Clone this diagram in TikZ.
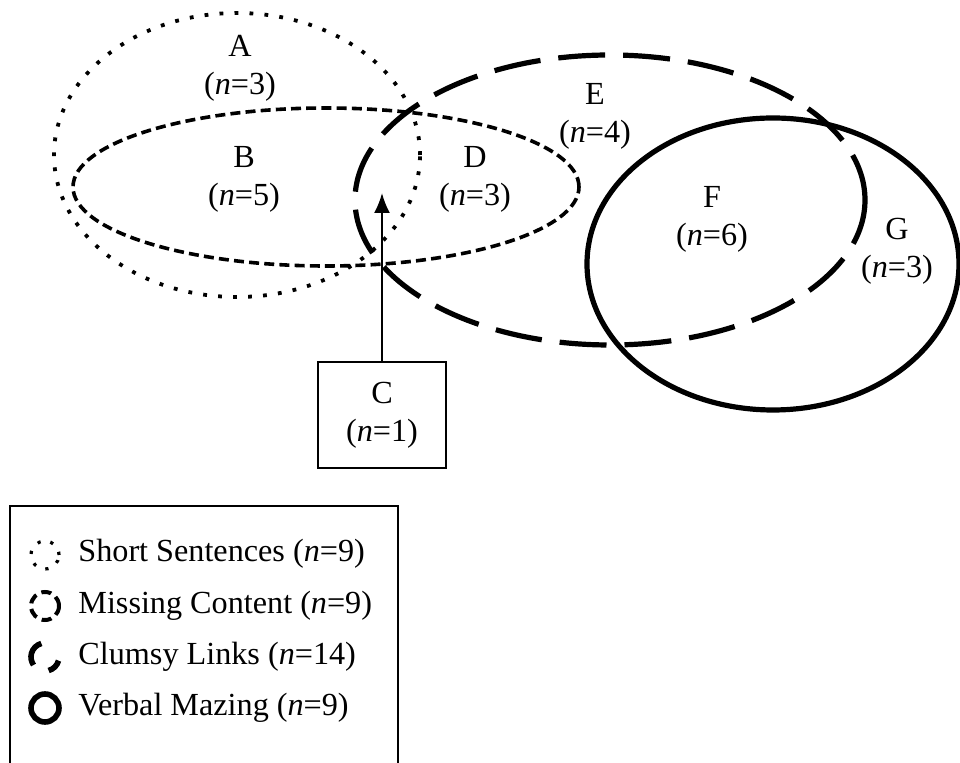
\documentclass[tikz,border=0pt]{standalone}
\usepackage{fontspec}
\setmainfont{Liberation Serif}
\usetikzlibrary{arrows.meta}
\tikzset{
  lbl/.style={align=center,font=\fontsize{16.1}{19}\selectfont,inner sep=0pt},
  shortset/.style={line width=1.9pt,dash pattern=on 1.9pt off 5.6pt},
  missset/.style={line width=1.8pt,dash pattern=on 5pt off 2.6pt},
  clumsyset/.style={line width=2.6pt,dash pattern=on 23.5pt off 9pt},
  mazeset/.style={line width=2.6pt}
}
\begin{document}
\begin{tikzpicture}[x=0.5pt,y=0.5pt]
    \useasboundingbox (0,0) rectangle (960,-763);
    % sets
    \draw[shortset] (237,-155) ellipse [x radius=183,y radius=142];
    \draw[missset] (326,-187) ellipse [x radius=253,y radius=79];
    \draw[clumsyset] (610,-200) ellipse [x radius=255,y radius=145];
    \draw[mazeset] (773,-264) ellipse [x radius=186,y radius=146];
    % regions
    \node[lbl] (a) at (240,-68) {A\\(\textit{n}=3)};
    \node[lbl] (b) at (244,-179) {B\\(\textit{n}=5)};
    \node[lbl] (d) at (475,-179) {D\\(\textit{n}=3)};
    \node[lbl] (e) at (595,-116) {E\\(\textit{n}=4)};
    \node[lbl] (f) at (712,-219) {F\\(\textit{n}=6)};
    \node[lbl] (g) at (897,-251) {G\\(\textit{n}=3)};
    % C
    \node[lbl,draw,line width=1pt,minimum width=64pt,minimum height=53pt] (c) at (382,-415) {C\\(\textit{n}=1)};
    \coordinate (ctip) at (382,-193);
    \draw[-{Latex[length=10pt,width=8pt]},line width=1pt] (c.north) -- (ctip);
    % legend
    \draw[line width=1pt] (10,-775) -- (10,-506) -- (398,-506) -- (398,-775);
    \draw[shortset,line width=1.6pt,dash pattern=on 1.6pt off 5pt] (45,-555) circle [radius=14];
    \draw[missset,line width=2pt,dash pattern=on 5pt off 2.8pt] (45,-606) circle [radius=14];
    \draw[mazeset,line width=2.8pt] (45,-657) ++(105:14) arc [start angle=105,end angle=215,radius=14];
    \draw[mazeset,line width=2.8pt] (45,-657) ++(285:14) arc [start angle=285,end angle=345,radius=14];
    \draw[mazeset,line width=2.8pt] (45,-708) circle [radius=14];
    \node[lbl,anchor=west] (l1) at (78,-554) {Short Sentences (\textit{n}=9)};
    \node[lbl,anchor=west] (l2) at (78,-606) {Missing Content (\textit{n}=9)};
    \node[lbl,anchor=west] (l3) at (78,-657) {Clumsy Links (\textit{n}=14)};
    \node[lbl,anchor=west] (l4) at (78,-708) {Verbal Mazing (\textit{n}=9)};
\end{tikzpicture}
\end{document}
